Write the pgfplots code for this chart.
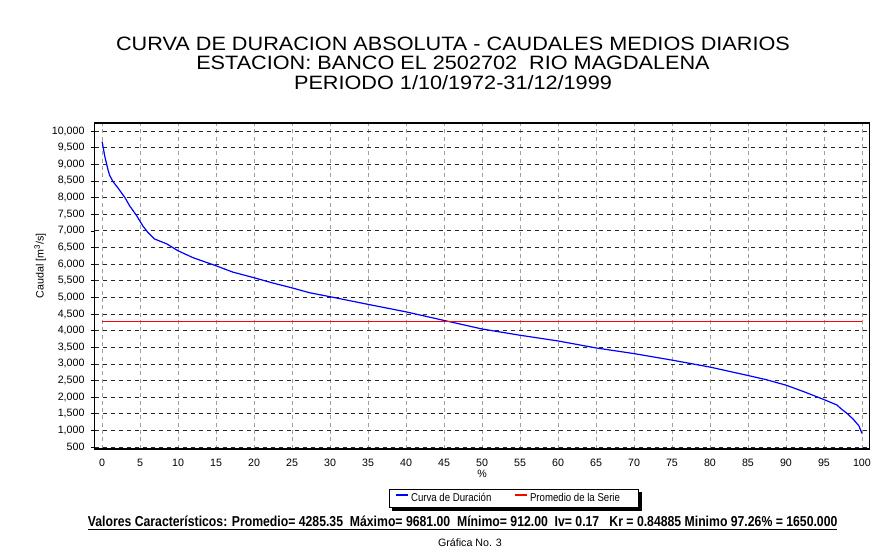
\documentclass[border=0pt]{standalone}
\usepackage{fontspec}
\setmainfont{Liberation Sans}
\newfontfamily\narrowfont[FakeStretch=0.85]{Liberation Sans}
\newfontfamily\widefont[FakeStretch=1.12]{Liberation Sans}
\usepackage{pgfplots}
\pgfplotsset{compat=1.18}
\usetikzlibrary{backgrounds}
\definecolor{cblue}{RGB}{0,0,255}
\definecolor{cred}{RGB}{255,0,0}

\begin{document}
\begin{tikzpicture}
\path[use as bounding box] (0,0) rectangle (663.75pt,413.25pt);
\begin{axis}[
  at={(70.9pt,76.7pt)}, anchor=south west, scale only axis,
  width=581.25pt, height=244.5pt,
  xmin=-1, xmax=101, ymin=450, ymax=10250,
  xtick={0,5,...,100}, ytick={500,1000,...,10000},
  scaled ticks=false,
  xmajorgrids, ymajorgrids,
  x grid style={gray!75, dash pattern=on 3pt off 2.5pt, line width=0.6pt},
  y grid style={black!85, dash pattern=on 3.5pt off 2.5pt, line width=0.6pt},
  axis line style={black, line width=1.2pt},
  tick align=outside,
  ytick style={black, line width=0.5pt},
  xtick style={draw=none},
  major tick length=3pt,
  xtick pos=bottom, ytick pos=left,
  ticklabel style={font=\fontsize{8}{9}\selectfont},
  yticklabel style={xshift=-1pt},
  xticklabel style={yshift=-1.5pt},
  yticklabel={\pgfmathprintnumber[fixed,precision=0,1000 sep={,},assume math mode=true]{\tick}},
  xticklabel={\pgfmathprintnumber[fixed,precision=0,assume math mode=true]{\tick}},
  legend columns=2,
  legend style={name=leg, at={(0.5415,-0.1525)}, anchor=center, draw=black, line width=0.6pt,
    fill=white,
    font=\narrowfont\fontsize{8.5}{9.5}\selectfont, inner xsep=4pt, inner ysep=1pt,
    /tikz/every even column/.append style={column sep=9pt}},
]
\addplot[draw=cblue, line width=0.9pt,
  legend image code/.code={\draw[cblue, line width=1pt] (0pt,2.5pt) -- (9pt,2.5pt);}] coordinates {
(0,9681) (0.35,9240) (0.8,8810) (1.0,8665) (1.45,8475) (2.1,8285) (3.0,8000)
(3.6,7760) (4.5,7470) (5.4,7135) (6.05,6945) (6.9,6755) (8.5,6610) (10,6400)
(12,6190) (15,5950) (17.2,5760) (20,5590) (22.5,5430) (25,5285) (27.3,5140)
(30,5020) (35,4790) (40,4565) (45,4307) (50,4050) (55,3862) (60,3690)
(65,3481) (70,3310) (75,3114) (80,2905) (85,2652) (87.4,2526) (90,2362)
(92.5,2152) (95,1928) (96.7,1766) (97.26,1650) (98,1519) (98.9,1327)
(99.6,1137) (100,912)
};
\addplot[draw=cred, line width=0.8pt,
  legend image code/.code={\draw[cred, line width=1pt] (0pt,2.5pt) -- (9pt,2.5pt);}] coordinates {(0,4285.35) (100,4285.35)};
\legend{Curva de Duración\hspace*{6pt}, Promedio de la Serie\hspace*{8pt}}
\end{axis}
\begin{pgfonlayer}{background}
\fill[black] ([xshift=2.2pt,yshift=-2.2pt]leg.south west) rectangle ([xshift=2.2pt,yshift=-2.2pt]leg.north east);
\end{pgfonlayer}
\node[font=\widefont\fontsize{14.5}{16}\selectfont] at (339.75pt,380.25pt) {CURVA DE DURACION ABSOLUTA - CAUDALES MEDIOS DIARIOS};
\node[font=\widefont\fontsize{14.5}{16}\selectfont] at (339.75pt,366pt) {ESTACION: BANCO EL 2502702\ \ RIO MAGDALENA};
\node[font=\widefont\fontsize{14.5}{16}\selectfont] at (339.75pt,351pt) {PERIODO 1/10/1972-31/12/1999};
\node[rotate=90, font=\fontsize{8}{9}\selectfont] at (30pt,214pt) {Caudal [m\textsuperscript{3}/s]};
\node[font=\fontsize{8}{9}\selectfont] at (361.5pt,58pt) {\%};
\node[font=\narrowfont\bfseries\fontsize{10.8}{12}\selectfont] at (347pt,21pt) {\underline{Valores Característicos: Promedio= 4285.35\ \ Máximo= 9681.00\ \ Mínimo= 912.00\ \ Iv= 0.17\ \ \ Kr = 0.84885 Minimo 97.26\% = 1650.000}};
\node[font=\fontsize{8}{9}\selectfont] at (352.5pt,6pt) {Gráfica No. 3};
\end{tikzpicture}
\end{document}
